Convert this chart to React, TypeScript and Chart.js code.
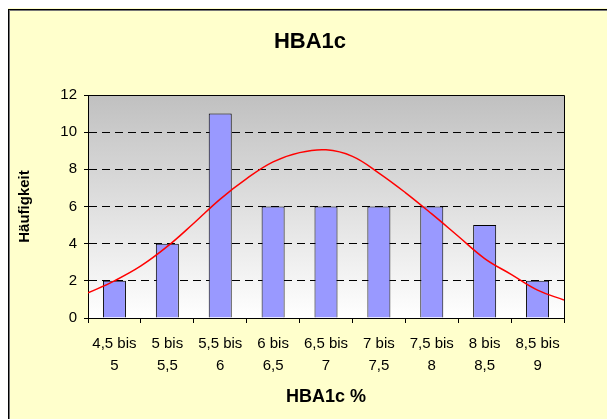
import React, { useEffect, useRef } from "react";
import { Chart, registerables } from "chart.js";

Chart.register(...registerables);

const categories: string[][] = [
  ["4,5 bis", "5"],
  ["5 bis", "5,5"],
  ["5,5 bis", "6"],
  ["6 bis", "6,5"],
  ["6,5 bis", "7"],
  ["7 bis", "7,5"],
  ["7,5 bis", "8"],
  ["8 bis", "8,5"],
  ["8,5 bis", "9"],
];
const counts: number[] = [2, 4, 11, 6, 6, 6, 6, 5, 2];

const curveX: number[] = [4.5, 4.75, 5.0, 5.25, 5.5, 5.75, 6.0, 6.25, 6.5, 6.75, 7.0, 7.25, 7.5, 7.75, 8.0, 8.25, 8.5, 8.75, 9.0];
const curveY: number[] = [1.35, 2.0, 2.8, 3.85, 5.1, 6.4, 7.5, 8.4, 8.9, 9.05, 8.7, 7.8, 6.75, 5.6, 4.4, 3.2, 2.35, 1.5, 0.97];

const xRange: number[] = [4.5, 9];
const yMin = 0;
const yMax = 12;
const yStep = 2;

const titleText = "HBA1c";
const xTitle = "HBA1c %";
const yTitle = "Häufigkeit";

const FONT = "'Liberation Sans', Arial, sans-serif";
const W = 599;
const H = 411;

const bgPlugin = {
  id: "bgPlugin",
  beforeDraw(chart: any) {
    const { ctx, chartArea } = chart;
    ctx.save();
    ctx.fillStyle = "#FFFFCC";
    ctx.fillRect(0, 0, chart.width, chart.height);
    ctx.fillStyle = "#000000";
    ctx.fillRect(0, 1, 1, chart.height);
    ctx.fillRect(0, 1, chart.width, 1);
    ctx.fillStyle = "#777777";
    ctx.fillRect(1, 2, 1, chart.height);
    ctx.fillRect(1, 2, chart.width, 1);
    const g = ctx.createLinearGradient(0, chartArea.top, 0, chartArea.bottom);
    g.addColorStop(0, "#C0C0C0");
    g.addColorStop(1, "#FFFFFF");
    ctx.fillStyle = g;
    ctx.fillRect(chartArea.left, chartArea.top, chartArea.right - chartArea.left, chartArea.bottom - chartArea.top);
    ctx.restore();
  },
  afterDraw(chart: any) {
    const { ctx, chartArea } = chart;
    ctx.save();
    ctx.setLineDash([]);
    ctx.strokeStyle = "#000000";
    ctx.lineWidth = 1;
    ctx.beginPath();
    const t = Math.round(chartArea.top) + 0.5;
    const r = Math.round(chartArea.right) + 0.5;
    ctx.moveTo(Math.round(chartArea.left), t);
    ctx.lineTo(r, t);
    ctx.lineTo(r, Math.round(chartArea.bottom));
    ctx.stroke();
    ctx.fillStyle = "#000000";
    ctx.font = `bold 22px ${FONT}`;
    ctx.textAlign = "center";
    ctx.textBaseline = "middle";
    ctx.fillText(titleText, 302, 34);
    ctx.restore();
  },
};

export default function App() {
  const ref = useRef<HTMLCanvasElement | null>(null);

  useEffect(() => {
    if (!ref.current) return;
    const chart = new Chart(ref.current, {
      type: "bar",
      data: {
        labels: categories,
        datasets: [
          {
            type: "line",
            data: curveX.map((x, i) => ({ x, y: curveY[i] })),
            xAxisID: "x2",
            yAxisID: "y",
            borderColor: "#FF0000",
            borderWidth: 1.5,
            pointRadius: 0,
            tension: 0.4,
            fill: false,
            order: 0,
          } as any,
          {
            type: "bar",
            data: counts,
            xAxisID: "x",
            yAxisID: "y",
            backgroundColor: "#9999FF",
            borderColor: "#000000",
            borderWidth: 1,
            categoryPercentage: 1,
            barPercentage: 0.435,
            grouped: false,
            order: 1,
          } as any,
        ],
      },
      options: {
        responsive: false,
        animation: false,
        devicePixelRatio: 1,
        layout: { padding: { left: 0, right: 43, top: 87, bottom: 0 } },
        plugins: {
          legend: { display: false },
          tooltip: { enabled: false },
          title: { display: false },
        },
        scales: {
          x: {
            type: "category",
            offset: true,
            afterFit: (s: any) => {
              s.height = 101;
            },
            grid: {
              display: true,
              drawOnChartArea: false,
              drawTicks: true,
              tickLength: 5,
              color: "#000000",
              offset: true,
            },
            border: { display: true, color: "#000000", width: 1 },
            ticks: {
              color: "#000000",
              font: { family: FONT, size: 15, lineHeight: 1.45 },
              padding: 10,
              maxRotation: 0,
              autoSkip: false,
            },
            title: {
              display: true,
              text: xTitle,
              color: "#000000",
              font: { family: FONT, size: 18, weight: "bold", lineHeight: 1.2 },
              padding: { top: 0, bottom: 11 },
            },
          },
          x2: {
            type: "linear",
            display: false,
            offset: false,
            min: xRange[0],
            max: xRange[1],
            grid: { offset: false },
          },
          y: {
            min: yMin,
            max: yMax,
            afterFit: (s: any) => {
              s.width = 80;
            },
            ticks: {
              stepSize: yStep,
              color: "#000000",
              font: { family: FONT, size: 15 },
              padding: 7,
            },
            grid: {
              color: (c: any) => (c.tick && (c.tick.value === yMin || c.tick.value === yMax) ? "rgba(0,0,0,0)" : "#000000"),
              tickColor: "#000000",
              tickLength: 4,
              tickBorderDash: [],
              lineWidth: 1,
            } as any,
            border: { display: true, color: "#000000", width: 1, dash: [8, 5] } as any,
            title: {
              display: true,
              text: yTitle,
              color: "#000000",
              font: { family: FONT, size: 15, weight: "bold", lineHeight: 1.2 },
              padding: { top: 8, bottom: 0 },
            },
          },
        },
      } as any,
      plugins: [bgPlugin],
    });
    return () => chart.destroy();
  }, []);

  return (
    <div style={{ position: "fixed", left: 8, top: 8, width: W, height: H }}>
      <canvas ref={ref} width={W} height={H} style={{ width: W, height: H, display: "block" }} />
    </div>
  );
}
